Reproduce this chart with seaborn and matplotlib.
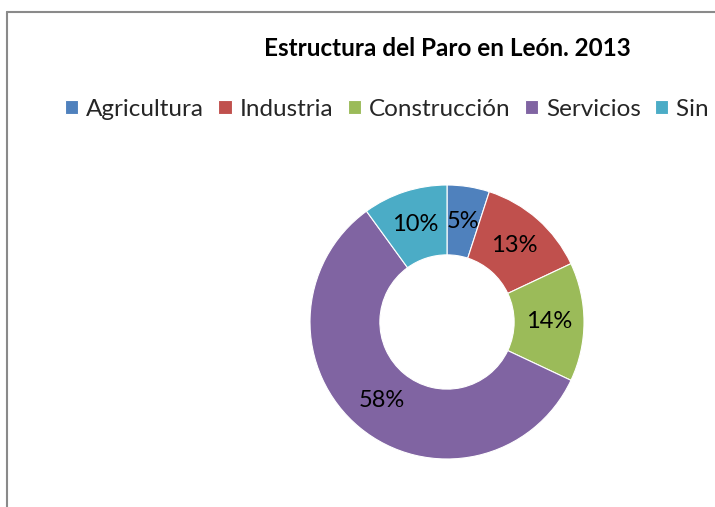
import matplotlib
matplotlib.use("Agg")
import matplotlib.pyplot as plt
import seaborn as sns
from matplotlib.lines import Line2D

# ── Data ─────────────────────────────────────────────
sectores = ["Agricultura", "Industria", "Construcción", "Servicios", "Sin Empleo Anterior"]
porcentajes = [5, 13, 14, 58, 10]
colores = ["#4F81BD", "#C0504D", "#9BBB59", "#8064A2", "#4BACC6"]
titulo = "Estructura del Paro en León. 2013"

sns.set_theme(style="white")
plt.rcParams["font.family"] = ["Lato", "DejaVu Sans"]
palette = sns.color_palette(colores)

W, H = 715, 507
fig = plt.figure(figsize=(W / 100, H / 100), dpi=100)
fig.patch.set_facecolor("white")

# donut centre (447, 322) px, outer radius 137 px
cx, cy, r = 447, 322, 137
pad = 1.02
side = 2 * r * pad
ax = fig.add_axes([(cx - side / 2) / W, (H - cy - side / 2) / H, side / W, side / H])

wedges, _, autotexts = ax.pie(
    porcentajes,
    colors=palette,
    startangle=90,
    counterclock=False,
    autopct="%1.0f%%",
    pctdistance=0.745,
    wedgeprops=dict(width=0.51, edgecolor="white", linewidth=0.8),
    textprops=dict(fontsize=17, color="black"),
)
ax.set_xlim(-pad, pad)
ax.set_ylim(-pad, pad)
ax.set_aspect("equal")
ax.axis("off")

fig.text(447 / W, 1 - 49 / H, titulo, ha="center", va="center",
         fontsize=17.5, fontweight="bold", color="black")

fig.legend(wedges, sectores, loc="center left",
           bbox_to_anchor=(65 / W, 1 - 109 / H), ncol=5, frameon=False,
           fontsize=17.5, handlelength=0.55, handleheight=0.55,
           handletextpad=0.33, columnspacing=0.58, borderpad=0, borderaxespad=0)

# chart-area border (only top and left visible, rest cropped)
bx, by = 6.5 / W, 1 - 11.5 / H
fig.add_artist(Line2D([bx, 1.0], [by, by], color="#8a8a8a", linewidth=1.5))
fig.add_artist(Line2D([bx, bx], [0.0, by], color="#8a8a8a", linewidth=1.5))

fig.savefig("out.png", dpi=100)
plt.close(fig)
